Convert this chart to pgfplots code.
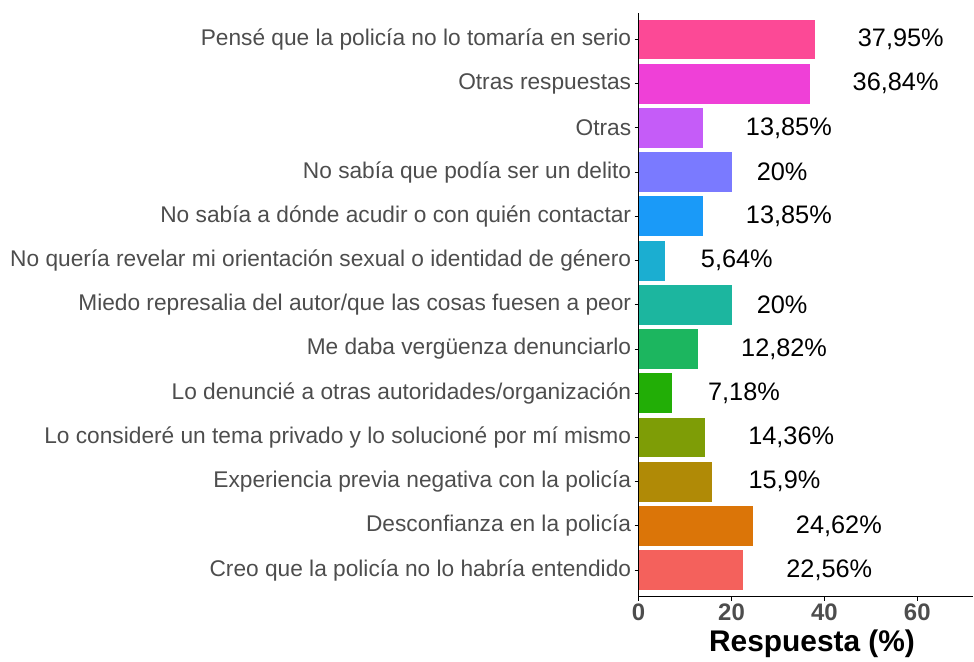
\documentclass[border=0pt]{standalone}
\usepackage{pgfplots}
\pgfplotsset{compat=1.18}
\usepackage{fontspec}
\setmainfont{Liberation Sans}

\definecolor{tickgray}{HTML}{4D4D4D}
\definecolor{c01}{HTML}{F4615C}
\definecolor{c02}{HTML}{DB7508}
\definecolor{c03}{HTML}{B08A06}
\definecolor{c04}{HTML}{7E9D06}
\definecolor{c05}{HTML}{22AE06}
\definecolor{c06}{HTML}{1CB65F}
\definecolor{c07}{HTML}{1CB69F}
\definecolor{c08}{HTML}{1BAED1}
\definecolor{c09}{HTML}{1A9AF8}
\definecolor{c10}{HTML}{7A7AFF}
\definecolor{c11}{HTML}{C55CF8}
\definecolor{c12}{HTML}{EF40D7}
\definecolor{c13}{HTML}{FC4996}

\pgfplotsset{
  hbar/.style={xbar, bar shift=0pt, bar width=0.9, draw=none, fill=#1},
}

\begin{document}
\begin{tikzpicture}
\begin{axis}[
    scale only axis,
    width=335bp, height=584bp,
    xmin=0, xmax=72.1,
    ymin=0.4, ymax=13.6,
    axis x line*=bottom,
    axis y line*=left,
    axis line style={black, line width=1.1pt},
    tick style={black, line width=1pt},
    tick align=outside,
    major tick length=4bp,
    xtick={0,20,40,60},
    ytick={1,...,13},
    yticklabels={
      Creo que la policía no lo habría entendido,
      Desconfianza en la policía,
      Experiencia previa negativa con la policía,
      Lo consideré un tema privado y lo solucioné por mí mismo,
      Lo denuncié a otras autoridades/organización,
      Me daba vergüenza denunciarlo,
      Miedo represalia del autor/que las cosas fuesen a peor,
      No quería revelar mi orientación sexual o identidad de género,
      No sabía a dónde acudir o con quién contactar,
      No sabía que podía ser un delito,
      Otras,
      Otras respuestas,
      Pensé que la policía no lo tomaría en serio},
    /pgf/number format/assume math mode=true,
    xticklabel style={font=\fontsize{24}{24}\selectfont\bfseries, text=tickgray},
    yticklabel style={font=\fontsize{22.8}{24}\selectfont, text=tickgray},
    xlabel={Respuesta (\%)},
    xlabel style={font=\fontsize{30}{30}\selectfont\bfseries, yshift=-2bp, xshift=6bp},
    clip=false,
]
\addplot[hbar=c01] coordinates {(22.56,1)};
\addplot[hbar=c02] coordinates {(24.62,2)};
\addplot[hbar=c03] coordinates {(15.9,3)};
\addplot[hbar=c04] coordinates {(14.36,4)};
\addplot[hbar=c05] coordinates {(7.18,5)};
\addplot[hbar=c06] coordinates {(12.82,6)};
\addplot[hbar=c07] coordinates {(20,7)};
\addplot[hbar=c08] coordinates {(5.64,8)};
\addplot[hbar=c09] coordinates {(13.85,9)};
\addplot[hbar=c10] coordinates {(20,10)};
\addplot[hbar=c11] coordinates {(13.85,11)};
\addplot[hbar=c12] coordinates {(36.84,12)};
\addplot[hbar=c13] coordinates {(37.95,13)};
% value labels, placed at their centres
\addplot[draw=none, mark=none, nodes near coords, point meta=explicit symbolic,
  every node near coord/.append style={anchor=center, font=\fontsize{25.4}{26}\selectfont, text=black}]
  coordinates {
    (41.06,1) [22,56\%]
    (43.12,2) [24,62\%]
    (31.4,3) [15,9\%]
    (32.86,4) [14,36\%]
    (22.68,5) [7,18\%]
    (31.32,6) [12,82\%]
    (30.9,7) [20\%]
    (21.14,8) [5,64\%]
    (32.35,9) [13,85\%]
    (30.9,10) [20\%]
    (32.35,11) [13,85\%]
    (55.34,12) [36,84\%]
    (56.45,13) [37,95\%]
  };
\end{axis}
\path ([xshift=-639bp, yshift=-62bp]current axis.south west)
      ([yshift=13bp]current axis.north east);
\end{tikzpicture}
\end{document}
